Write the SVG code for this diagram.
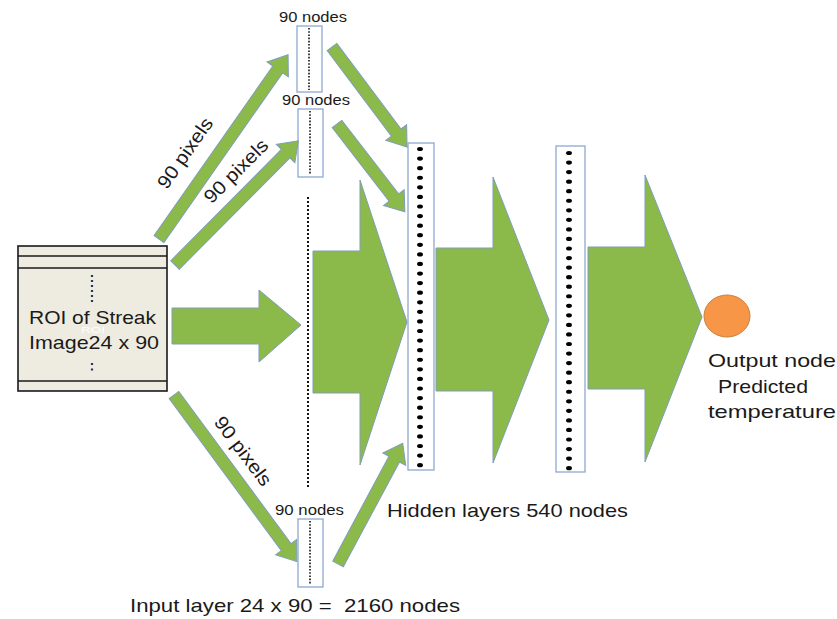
<svg xmlns="http://www.w3.org/2000/svg" width="837" height="619" viewBox="0 0 837 619">
  <style>
    .lbl { font-family: "Liberation Sans", Arial, sans-serif; fill: #1a1a1a; }
    .green { fill: #8CBA4A; stroke: #7F9DB9; stroke-width: 1; stroke-linejoin: miter; }
    .layer { fill: #ffffff; stroke: #8EAACC; stroke-width: 1.3; }
    .dotline { stroke: #111; stroke-width: 1.6; stroke-dasharray: 1.6 1.6; fill: none; }
    .nodedots { stroke: #000; stroke-width: 4.2; stroke-linecap: round; fill: none; }
  </style>

  <rect width="837" height="619" fill="#ffffff"/>

  <!-- Input image block -->
  <g id="roi">
    <rect x="18" y="246" width="149" height="145" fill="#EEECE1" stroke="#1a1a1a" stroke-width="1.6"/>
    <line x1="18" y1="256" x2="167" y2="256" stroke="#1a1a1a" stroke-width="1.6"/>
    <line x1="18" y1="268" x2="167" y2="268" stroke="#1a1a1a" stroke-width="1.6"/>
    <line x1="18" y1="381" x2="167" y2="381" stroke="#1a1a1a" stroke-width="1.6"/>
    <line x1="92" y1="275" x2="92" y2="302" stroke="#1F3864" stroke-width="2.2" stroke-dasharray="2 3"/>
    <line x1="92" y1="363" x2="92" y2="371" stroke="#1F3864" stroke-width="2.2" stroke-dasharray="2 3.5"/>
    <text x="93" y="333" text-anchor="middle" font-family="Liberation Sans, sans-serif" font-size="9" fill="#ffffff" fill-opacity="0.9" textLength="24" lengthAdjust="spacingAndGlyphs">ROI</text>
    <text class="lbl" x="29" y="324" font-size="19" textLength="127" lengthAdjust="spacingAndGlyphs">ROI of Streak</text>
    <text class="lbl" x="29" y="349" font-size="19" textLength="130" lengthAdjust="spacingAndGlyphs">Image24 x 90</text>
  </g>

  <!-- Input layer columns -->
  <g id="input-col-1">
    <rect class="layer" x="297" y="26" width="25" height="66"/>
    <line class="dotline" x1="309" y1="28" x2="309" y2="90"/>
    <text class="lbl" x="279" y="22" font-size="14" textLength="68" lengthAdjust="spacingAndGlyphs">90 nodes</text>
  </g>
  <g id="input-col-2">
    <rect class="layer" x="298" y="109" width="25" height="68"/>
    <line class="dotline" x1="310" y1="111" x2="310" y2="175"/>
    <text class="lbl" x="282" y="105" font-size="14" textLength="68" lengthAdjust="spacingAndGlyphs">90 nodes</text>
  </g>
  <g id="input-col-dots">
    <line x1="308" y1="197" x2="308" y2="488" stroke="#111" stroke-width="2" stroke-dasharray="2 2"/>
  </g>
  <g id="input-col-3">
    <rect class="layer" x="298" y="519" width="25" height="68"/>
    <line class="dotline" x1="310" y1="521" x2="310" y2="585"/>
    <text class="lbl" x="275" y="515" font-size="14" textLength="69" lengthAdjust="spacingAndGlyphs">90 nodes</text>
  </g>

  <!-- Hidden layers (dots widened into ellipses) -->
  <g id="hidden-1">
    <rect class="layer" x="408" y="143" width="26" height="327"/>
    <g transform="translate(420,0) scale(1.4,1)">
      <line class="nodedots" x1="0" y1="149" x2="0" y2="468" stroke-dasharray="0 9.58"/>
    </g>
  </g>
  <g id="hidden-2">
    <rect class="layer" x="556" y="146" width="29" height="326"/>
    <g transform="translate(569,0) scale(1.4,1)">
      <line class="nodedots" x1="0" y1="153" x2="0" y2="471" stroke-dasharray="0 9.55"/>
    </g>
  </g>

  <!-- Output node -->
  <g id="output">
    <ellipse cx="727" cy="316" rx="23" ry="21" fill="#F79646" stroke="#C9803F" stroke-width="1"/>
    <text class="lbl" x="708" y="367" font-size="19" textLength="128" lengthAdjust="spacingAndGlyphs">Output node</text>
    <text class="lbl" x="718" y="393" font-size="19" textLength="90" lengthAdjust="spacingAndGlyphs">Predicted</text>
    <text class="lbl" x="708" y="418" font-size="19" textLength="128" lengthAdjust="spacingAndGlyphs">temperature</text>
  </g>

  <!-- Connectors -->
  <g id="connectors">
    <!-- input image to split columns -->
    <polygon class="green" transform="translate(159,239) rotate(-55)" points="0,-6 207,-6 207,-13 225,0 207,13 207,6 0,6"/>
    <polygon class="green" transform="translate(175,265) rotate(-45.2)" points="0,-6 157,-6 157,-13 175,0 157,13 157,6 0,6"/>
    <polygon class="green" transform="translate(174,395) rotate(53.6)" points="0,-6 189,-6 189,-13 207,0 189,13 189,6 0,6"/>
    <polygon class="green" points="172,308 259,308 259,290 301,325 259,362 259,344 172,344"/>
    <!-- columns to first hidden layer -->
    <polygon class="green" transform="translate(332,47) rotate(53.1)" points="0,-6 107,-6 107,-13 125,0 107,13 107,6 0,6"/>
    <polygon class="green" transform="translate(337,124) rotate(52.3)" points="0,-6 93,-6 93,-13 111,0 93,13 93,6 0,6"/>
    <polygon class="green" transform="translate(338,564) rotate(-61.8)" points="0,-6 119,-6 119,-13 137,0 119,13 119,6 0,6"/>
    <!-- layer to layer -->
    <polygon class="green" points="313,251 360,251 360,180 407,322 360,465 360,393 313,393"/>
    <polygon class="green" points="436,248 493,248 493,177 549,320 493,463 493,391 436,391"/>
    <polygon class="green" points="588,247 645,247 645,175 702,317 645,462 645,389 588,389"/>
  </g>

  <!-- Connector labels -->
  <g id="connector-labels">
    <text class="lbl" transform="translate(185,153) rotate(-55)" text-anchor="middle" dominant-baseline="central" font-size="19" textLength="82" lengthAdjust="spacingAndGlyphs">90 pixels</text>
    <text class="lbl" transform="translate(236,171) rotate(-45)" text-anchor="middle" dominant-baseline="central" font-size="19" textLength="82" lengthAdjust="spacingAndGlyphs">90 pixels</text>
    <text class="lbl" transform="translate(243,451) rotate(53)" text-anchor="middle" dominant-baseline="central" font-size="19" textLength="82" lengthAdjust="spacingAndGlyphs">90 pixels</text>
  </g>

  <!-- Captions -->
  <g id="captions">
    <text class="lbl" x="387" y="517" font-size="19" textLength="241" lengthAdjust="spacingAndGlyphs">Hidden layers 540 nodes</text>
    <text class="lbl" x="130" y="612" font-size="19" textLength="330" lengthAdjust="spacingAndGlyphs" xml:space="preserve">Input layer 24 x 90 =  2160 nodes</text>
  </g>
</svg>
